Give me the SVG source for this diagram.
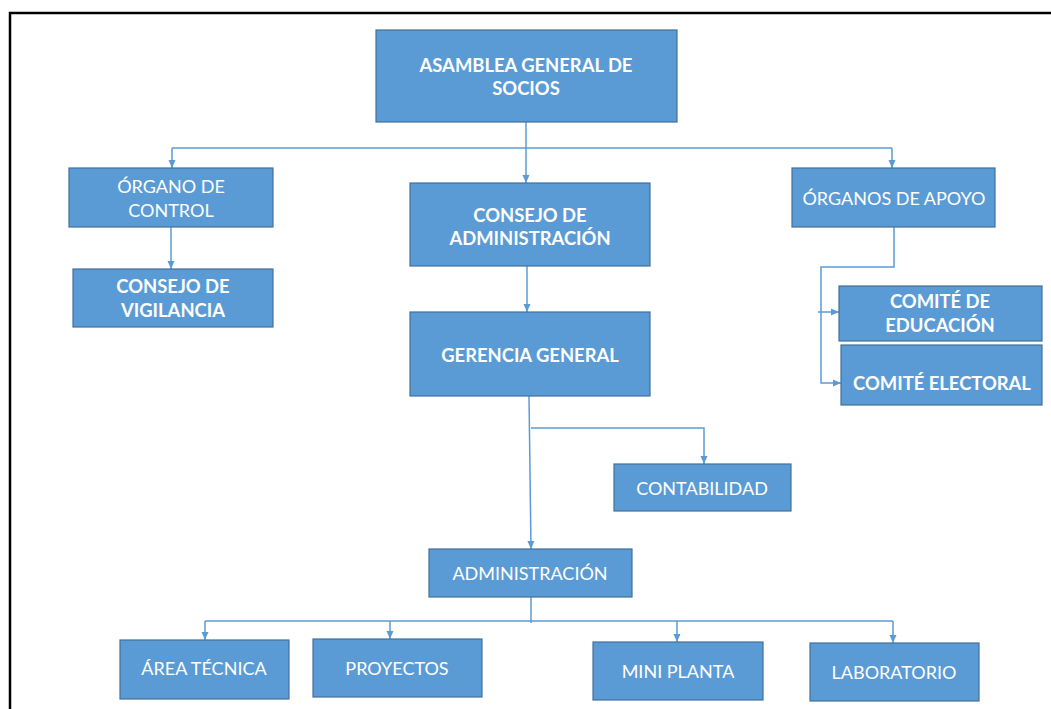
<svg xmlns="http://www.w3.org/2000/svg" width="1051" height="709" viewBox="0 0 1051 709">
<style>
.box{fill:#5B9BD5;stroke:#41719C;stroke-width:1.2}
.t{fill:#ffffff;font-family:Lato,"Open Sans","Liberation Sans",sans-serif;font-size:18px;text-anchor:middle;dominant-baseline:central}
.b{font-weight:bold;font-size:18.4px}
.c{fill:none;stroke:#5B9BD5;stroke-width:1.5}
</style>
<defs>
<marker id="ah" markerUnits="userSpaceOnUse" markerWidth="8" markerHeight="8" refX="8" refY="4" orient="auto">
<path d="M0,0.5 L8,4 L0,7.5 z" fill="#5B9BD5"/>
</marker>
</defs>
<rect x="0" y="0" width="1051" height="709" fill="#ffffff"/>
<path d="M10,709 V13 H1051" fill="none" stroke="#000000" stroke-width="2.5"/>
<g id="connectors">
<path class="c" d="M526,122 V183" marker-end="url(#ah)"/>
<path class="c" d="M172,148 H892"/>
<path class="c" d="M172,148 V168" marker-end="url(#ah)"/>
<path class="c" d="M892,148 V168" marker-end="url(#ah)"/>
<path class="c" d="M171,227 V269" marker-end="url(#ah)"/>
<path class="c" d="M527,266 V312" marker-end="url(#ah)"/>
<path class="c" d="M894,227 V267 H821 V383 H841" marker-end="url(#ah)"/>
<path class="c" d="M818,312 H839" marker-end="url(#ah)"/>
<path class="c" d="M529,396 L531,549" marker-end="url(#ah)"/>
<path class="c" d="M531,428 H704 V464" marker-end="url(#ah)"/>
<path class="c" d="M531,597 V623"/>
<path class="c" d="M205,621 H893"/>
<path class="c" d="M205,621 V640" marker-end="url(#ah)"/>
<path class="c" d="M390,621 V639" marker-end="url(#ah)"/>
<path class="c" d="M677,621 V642" marker-end="url(#ah)"/>
<path class="c" d="M893,621 V643" marker-end="url(#ah)"/>
</g>
<g id="asamblea"><rect class="box" x="376" y="30" width="301" height="92"/>
<text class="t b" x="526" y="65">ASAMBLEA GENERAL DE</text><text class="t b" x="526" y="88">SOCIOS</text></g>
<g id="organo-control"><rect class="box" x="69" y="168" width="204" height="59"/>
<text class="t" x="171" y="186">ÓRGANO DE</text><text class="t" x="171" y="210">CONTROL</text></g>
<g id="consejo-vigilancia"><rect class="box" x="73" y="269" width="200" height="58"/>
<text class="t b" x="173" y="286">CONSEJO DE</text><text class="t b" x="173" y="310">VIGILANCIA</text></g>
<g id="consejo-admin"><rect class="box" x="410" y="183" width="240" height="83"/>
<text class="t b" x="530" y="215">CONSEJO DE</text><text class="t b" x="530" y="238">ADMINISTRACIÓN</text></g>
<g id="gerencia"><rect class="box" x="410" y="312" width="240" height="84"/>
<text class="t b" x="530" y="355">GERENCIA GENERAL</text></g>
<g id="organos-apoyo"><rect class="box" x="792" y="168" width="203" height="59"/>
<text class="t" x="894" y="198">ÓRGANOS DE APOYO</text></g>
<g id="comite-educacion"><rect class="box" x="839" y="286" width="203" height="55"/>
<text class="t b" x="940" y="301">COMITÉ DE</text><text class="t b" x="940" y="325">EDUCACIÓN</text></g>
<g id="comite-electoral"><rect class="box" x="841" y="345" width="201" height="60"/>
<text class="t b" x="942" y="383">COMITÉ ELECTORAL</text></g>
<g id="contabilidad"><rect class="box" x="614" y="464" width="177" height="47"/>
<text class="t" x="702" y="488">CONTABILIDAD</text></g>
<g id="administracion"><rect class="box" x="429" y="549" width="203" height="48"/>
<text class="t" x="530" y="573">ADMINISTRACIÓN</text></g>
<g id="area-tecnica"><rect class="box" x="120" y="640" width="169" height="59"/>
<text class="t" x="204" y="668">ÁREA TÉCNICA</text></g>
<g id="proyectos"><rect class="box" x="313" y="639" width="169" height="58"/>
<text class="t" x="397" y="668">PROYECTOS</text></g>
<g id="mini-planta"><rect class="box" x="593" y="642" width="170" height="58"/>
<text class="t" x="678" y="671">MINI PLANTA</text></g>
<g id="laboratorio"><rect class="box" x="810" y="643" width="169" height="58"/>
<text class="t" x="894" y="672">LABORATORIO</text></g>
</svg>
